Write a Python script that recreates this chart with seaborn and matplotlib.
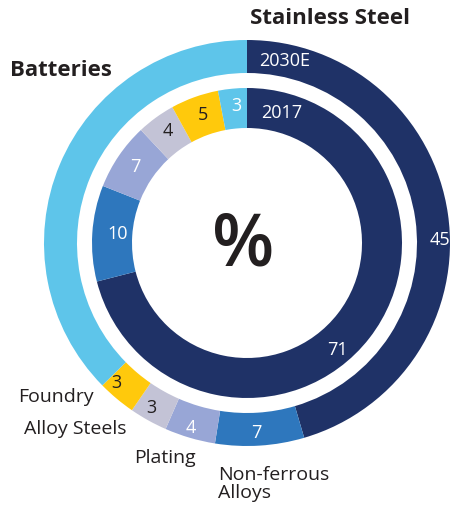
import matplotlib
matplotlib.use("Agg")
import matplotlib.pyplot as plt
import seaborn as sns

sns.set_theme(style="white")
plt.rcParams['font.family'] = ['Open Sans', 'DejaVu Sans']

categories = ["Stainless Steel", "Non-ferrous Alloys", "Plating", "Alloy Steels", "Foundry", "Batteries"]
values_2030 = [45, 7, 4, 3, 3, 37]
values_2017 = [71, 10, 7, 4, 5, 3]
colors = ["#1f3267", "#2e77bd", "#98a6d6", "#c3c3d6", "#ffc90c", "#5ec5ea"]
label_colors_2030 = ["white", "white", "white", "#231f20", "#231f20", "white"]
label_colors_2017 = ["white", "white", "white", "#231f20", "#231f20", "white"]

W, H = 450, 507
fig = plt.figure(figsize=(W / 100, H / 100), dpi=100)
ax = fig.add_axes([0, 0, 1, 1])

cx, cy = 247, H - 243


def Y(y):
    return H - y


ax.pie(values_2030, radius=203, center=(cx, cy), startangle=90, counterclock=False,
       colors=colors, wedgeprops=dict(width=33, edgecolor="none", linewidth=0), frame=True)
ax.pie(values_2017, radius=155, center=(cx, cy), startangle=90, counterclock=False,
       colors=colors, wedgeprops=dict(width=40, edgecolor="none", linewidth=0), frame=True)
ax.set_xlim(0, W)
ax.set_ylim(0, H)
ax.set_aspect("equal")
ax.axis("off")

fs_val = 13
# value labels (outer ring 2030E)
pos_2030 = [(430, 240, "left"), (256, 433, "center"), (191, 428, "center"),
            (151, 408, "center"), (116, 383, "center"), (46, 162, "center")]
for v, (x, y, ha), c in zip(values_2030, pos_2030, label_colors_2030):
    ax.text(x, Y(y), str(v), ha=ha, va="center", color=c, fontsize=fs_val)

pos_2017 = [(337, 350), (118, 234), (135, 167), (168, 131), (203, 115), (236, 106)]
for v, (x, y), c in zip(values_2017, pos_2017, label_colors_2017):
    ax.text(x, Y(y), str(v), ha="center", va="center", color=c, fontsize=fs_val)

ax.text(285, Y(61), "2030E", ha="center", va="center", color="white", fontsize=fs_val)
ax.text(282, Y(113), "2017", ha="center", va="center", color="white", fontsize=fs_val)

# category labels
dark = "#231f20"
ax.text(250, Y(19), "Stainless Steel", ha="left", va="center", color=dark,
        fontsize=16, fontweight="bold")
ax.text(10, Y(71), "Batteries", ha="left", va="center", color=dark,
        fontsize=16, fontweight="bold")
fs_cat = 14
ax.text(18, Y(397), "Foundry", ha="left", va="center", color=dark, fontsize=fs_cat)
ax.text(24, Y(429), "Alloy Steels", ha="left", va="center", color=dark, fontsize=fs_cat)
ax.text(134, Y(458), "Plating", ha="left", va="center", color=dark, fontsize=fs_cat)
ax.text(218, Y(484), "Non-ferrous\nAlloys", ha="left", va="center", color=dark,
        fontsize=fs_cat, linespacing=0.95)

ax.text(243, Y(246), "%", ha="center", va="center", color=dark,
        fontsize=52, fontweight="semibold")

fig.savefig("out.png", dpi=100)
